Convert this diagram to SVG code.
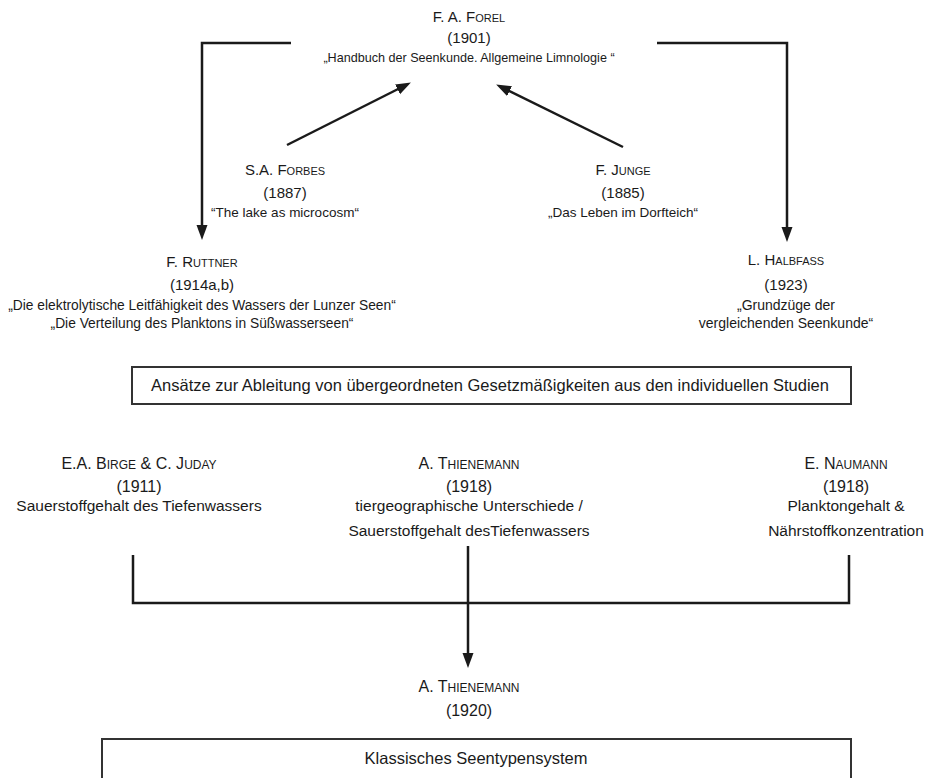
<svg xmlns="http://www.w3.org/2000/svg" width="936" height="778" viewBox="0 0 936 778">
<defs>
<style>
text{font-family:"Liberation Sans",Arial,sans-serif;fill:#1a1a1a;text-anchor:middle}
.nm{font-size:15px}
.nm2{font-size:16px}
.sc{font-size:11px}
.sc2{font-size:12px}
.yr{font-size:15px}
.yr2{font-size:16px}
.d1{font-size:13.5px}
.d2{font-size:15.5px}
.bx{font-size:16.5px}
.ln{fill:none;stroke:#1a1a1a;stroke-width:2.5}
.box{fill:none;stroke:#333;stroke-width:2}
</style>
<marker id="ah" markerUnits="userSpaceOnUse" markerWidth="16" markerHeight="12" refX="4" refY="5.5" orient="auto">
<path d="M0,0 L15,5.5 L0,11 z" fill="#1a1a1a"/>
</marker>
</defs>
<rect width="936" height="778" fill="#fff"/>

<g id="forel">
<text class="nm" x="469" y="22">F. A. F<tspan class="sc">OREL</tspan></text>
<text class="yr" x="469" y="43">(1901)</text>
<text class="d1" x="469" y="62" style="font-size:12.6px">„Handbuch der Seenkunde. Allgemeine Limnologie “</text>
</g>

<g id="forbes">
<text class="nm" x="285" y="175">S.A. F<tspan class="sc">ORBES</tspan></text>
<text class="yr" x="285" y="198">(1887)</text>
<text class="d1" x="285" y="217">“The lake as microcosm“</text>
</g>

<g id="junge">
<text class="nm" x="623" y="175">F. J<tspan class="sc">UNGE</tspan></text>
<text class="yr" x="623" y="198">(1885)</text>
<text class="d1" x="623" y="217">„Das Leben im Dorfteich“</text>
</g>

<g id="ruttner">
<text class="nm" x="202" y="267">F. R<tspan class="sc">UTTNER</tspan></text>
<text class="yr" x="202" y="290">(1914a,b)</text>
<text class="d1" x="202" y="310" style="font-size:13.8px">„Die elektrolytische Leitfähigkeit des Wassers der Lunzer Seen“</text>
<text class="d1" x="202" y="328" style="font-size:13.8px">„Die Verteilung des Planktons in Süßwasserseen“</text>
</g>

<g id="halbfass">
<text class="nm" x="786" y="265">L. H<tspan class="sc">ALBFASS</tspan></text>
<text class="yr" x="786" y="290">(1923)</text>
<text class="d1" x="786" y="310" style="font-size:14px">„Grundzüge der</text>
<text class="d1" x="786" y="328" style="font-size:14px">vergleichenden Seenkunde“</text>
</g>

<g id="ansaetze">
<rect class="box" x="132" y="367" width="719" height="37"/>
<text class="bx" x="490" y="391">Ansätze zur Ableitung von übergeordneten Gesetzmäßigkeiten aus den individuellen Studien</text>
</g>

<g id="birge">
<text class="nm2" x="139" y="469">E.A. B<tspan class="sc2">IRGE</tspan> &amp; C. J<tspan class="sc2">UDAY</tspan></text>
<text class="yr2" x="139" y="492">(1911)</text>
<text class="d2" x="139" y="511">Sauerstoffgehalt des Tiefenwassers</text>
</g>

<g id="thienemann1918">
<text class="nm2" x="469" y="469">A. T<tspan class="sc2">HIENEMANN</tspan></text>
<text class="yr2" x="469" y="492">(1918)</text>
<text class="d2" x="469" y="511">tiergeographische Unterschiede /</text>
<text class="d2" x="469" y="536">Sauerstoffgehalt desTiefenwassers</text>
</g>

<g id="naumann">
<text class="nm2" x="846" y="469">E. N<tspan class="sc2">AUMANN</tspan></text>
<text class="yr2" x="846" y="492">(1918)</text>
<text class="d2" x="846" y="511">Planktongehalt &amp;</text>
<text class="d2" x="846" y="536">Nährstoffkonzentration</text>
</g>

<g id="thienemann1920">
<text class="nm2" x="469" y="692">A. T<tspan class="sc2">HIENEMANN</tspan></text>
<text class="yr2" x="469" y="716">(1920)</text>
</g>

<g id="seentypen">
<path class="box" d="M102,790 V739 H851 V790"/>
<text class="bx" x="476" y="764">Klassisches Seentypensystem</text>
</g>

<g id="connectors">
<path class="ln" d="M291,43 H202 V229" marker-end="url(#ah)"/>
<path class="ln" d="M657,43 H787 V231" marker-end="url(#ah)"/>
<line class="ln" x1="287" y1="145" x2="401.1" y2="87.5" marker-end="url(#ah)"/>
<line class="ln" x1="623" y1="147" x2="506" y2="89.4" marker-end="url(#ah)"/>
<path class="ln" d="M133,555 V603 H849 V555"/>
<line class="ln" x1="468" y1="546" x2="468" y2="657" marker-end="url(#ah)"/>
</g>
</svg>
